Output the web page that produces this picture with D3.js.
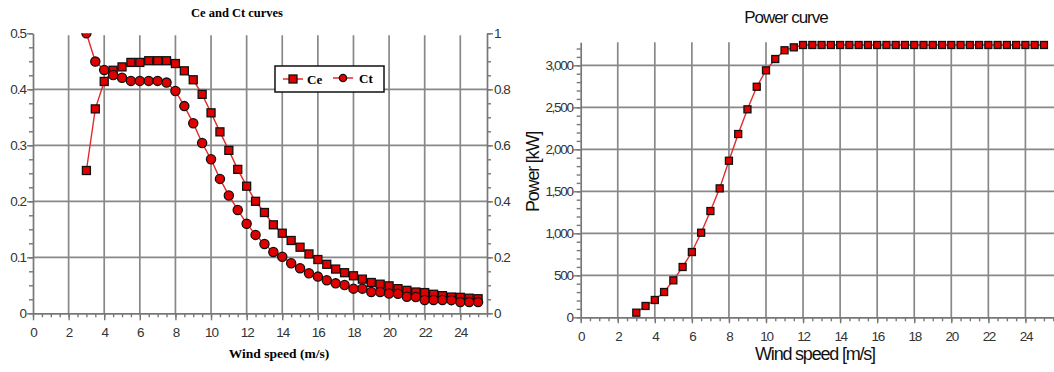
<!DOCTYPE html>
<html>
<head>
<meta charset="utf-8">
<script src="https://cdn.jsdelivr.net/npm/d3@7"></script>
<style>
  body { margin: 0; background: #fff; }
  svg { display: block; }
</style>
</head>
<body>
<svg id="chart" width="1054" height="372"></svg>
<script>
// wind speeds shared by both charts
const windSpeed = [3, 3.5, 4, 4.5, 5, 5.5, 6, 6.5, 7, 7.5, 8, 8.5, 9, 9.5, 10, 10.5, 11, 11.5, 12, 12.5,
  13, 13.5, 14, 14.5, 15, 15.5, 16, 16.5, 17, 17.5, 18, 18.5, 19, 19.5, 20, 20.5, 21, 21.5, 22, 22.5,
  23, 23.5, 24, 24.5, 25];

const ceValues = [0.255, 0.365, 0.414, 0.434, 0.440, 0.448, 0.448, 0.451, 0.451, 0.451, 0.446, 0.433,
  0.417, 0.391, 0.358, 0.324, 0.291, 0.257, 0.227, 0.200, 0.180, 0.158, 0.143, 0.130, 0.118, 0.106,
  0.096, 0.0875, 0.079, 0.0725, 0.067, 0.061, 0.055, 0.052, 0.049, 0.044, 0.041, 0.038, 0.037, 0.034,
  0.0315, 0.029, 0.0285, 0.027, 0.026];

const ctValues = [1.0, 0.899, 0.869, 0.851, 0.841, 0.830, 0.830, 0.830, 0.830, 0.824, 0.794, 0.740,
  0.679, 0.608, 0.550, 0.480, 0.421, 0.369, 0.320, 0.280, 0.2475, 0.219, 0.202, 0.179, 0.161, 0.143,
  0.131, 0.118, 0.107, 0.101, 0.088, 0.088, 0.076, 0.076, 0.071, 0.070, 0.059, 0.058, 0.0475, 0.0475,
  0.0475, 0.047, 0.040, 0.040, 0.040];

const powerValues = [55, 135, 206, 301, 440, 599, 777, 1007, 1265, 1535, 1864, 2182, 2476, 2745, 2940,
  3075, 3179, 3214, 3242, 3242, 3242, 3242, 3242, 3242, 3242, 3242, 3242, 3242, 3242, 3242, 3242,
  3242, 3242, 3242, 3242, 3242, 3242, 3242, 3242, 3242, 3242, 3242, 3242, 3242, 3242];

const xTicks = [0, 2, 4, 6, 8, 10, 12, 14, 16, 18, 20, 22, 24];
const ceTicks = [0, 0.1, 0.2, 0.3, 0.4, 0.5];
const ctTicks = [0, 0.2, 0.4, 0.6, 0.8, 1];
const powerTicks = [0, 500, 1000, 1500, 2000, 2500, 3000];

const svg = d3.select("#chart");
const gridColor = "#888";
const red = "#e00000";
const lineRed = "#e42a2a";

// ---------- left chart: Ce and Ct ----------
const x1 = d3.scaleLinear().domain([0, 25.5]).range([33, 487]);
const yCe = d3.scaleLinear().domain([0, 0.5]).range([313.3, 33.3]);
const yCt = d3.scaleLinear().domain([0, 1]).range([313.3, 33.3]);

const left = svg.append("g");

left.append("defs").append("clipPath").attr("id", "clipLeft")
  .append("rect").attr("x", 20).attr("y", 33.3).attr("width", 480).attr("height", 300);

// vertical grid
left.append("g").selectAll("line")
  .data(xTicks.filter(d => d > 0))
  .enter().append("line")
  .attr("x1", d => x1(d)).attr("x2", d => x1(d))
  .attr("y1", yCe(0.5) + 2).attr("y2", yCe(0))
  .attr("stroke", gridColor).attr("stroke-width", 1.7);

// horizontal grid
left.append("g").selectAll("line")
  .data(ceTicks.filter(d => d > 0 && d < 0.5))
  .enter().append("line")
  .attr("x1", x1(0)).attr("x2", x1(25.5))
  .attr("y1", d => yCe(d)).attr("y2", d => yCe(d))
  .attr("stroke", gridColor).attr("stroke-width", 1.7);

// axes
const tickStyle = g => {
  g.select(".domain").attr("stroke", "#777").attr("stroke-width", 1.7);
  g.selectAll(".tick line").attr("stroke", "#777").attr("stroke-width", 1.4);
  g.selectAll(".tick text").attr("fill", "#333")
    .style("font-family", "'Liberation Sans', Arial, sans-serif")
    .style("font-size", "13.5px").style("letter-spacing", "-1px");
};

left.append("g")
  .attr("transform", "translate(0," + yCe(0) + ")")
  .call(d3.axisBottom(x1).tickValues(d3.range(0, 25.6, 0.5)).tickSize(4).tickSizeOuter(0).tickFormat(""))
  .call(g => g.select(".domain").remove())
  .selectAll("line").attr("stroke", "#777").attr("stroke-width", 1.4);

left.append("g")
  .attr("transform", "translate(0," + yCe(0) + ")")
  .call(d3.axisBottom(x1).tickValues(xTicks).tickSize(7).tickSizeOuter(0).tickPadding(7))
  .call(tickStyle);

left.append("g")
  .attr("transform", "translate(" + x1(0) + ",0)")
  .call(d3.axisLeft(yCe).tickValues(d3.range(0, 0.501, 0.025)).tickSize(4).tickFormat(""))
  .call(g => g.select(".domain").remove())
  .selectAll("line").attr("stroke", "#777").attr("stroke-width", 1.4);

left.append("g")
  .attr("transform", "translate(" + x1(0) + ",0)")
  .call(d3.axisLeft(yCe).tickValues(ceTicks).tickSize(6).tickSizeOuter(0).tickPadding(1))
  .call(tickStyle)
  .call(g => g.selectAll(".tick text").text(d => d === 0 ? "0" : d3.format(".1f")(d)));

left.append("g")
  .attr("transform", "translate(" + x1(25.5) + ",0)")
  .call(d3.axisRight(yCt).tickValues(d3.range(0, 1.001, 0.05)).tickSize(4).tickFormat(""))
  .call(g => g.select(".domain").remove())
  .selectAll("line").attr("stroke", "#777").attr("stroke-width", 1.4);

left.append("g")
  .attr("transform", "translate(" + x1(25.5) + ",0)")
  .call(d3.axisRight(yCt).tickValues(ctTicks).tickSize(6).tickSizeOuter(0).tickPadding(1))
  .call(tickStyle)
  .call(g => g.selectAll(".tick text").text(d => d === 0 || d === 1 ? d : d3.format(".1f")(d)));

// series
const plotLeft = left.append("g").attr("clip-path", "url(#clipLeft)");

const ceLine = d3.line().x((d, i) => x1(windSpeed[i])).y(d => yCe(d));
const ctLine = d3.line().x((d, i) => x1(windSpeed[i])).y(d => yCt(d));

plotLeft.append("path").datum(ceValues)
  .attr("d", ceLine).attr("fill", "none").attr("stroke", lineRed).attr("stroke-width", 1.4);
plotLeft.append("path").datum(ctValues)
  .attr("d", ctLine).attr("fill", "none").attr("stroke", lineRed).attr("stroke-width", 1.4);

plotLeft.append("g").selectAll("rect")
  .data(ceValues)
  .enter().append("rect")
  .attr("x", (d, i) => x1(windSpeed[i]) - 4)
  .attr("y", d => yCe(d) - 4)
  .attr("width", 8).attr("height", 8)
  .attr("fill", red).attr("stroke", "#111").attr("stroke-width", 1.3);

plotLeft.append("g").selectAll("circle")
  .data(ctValues)
  .enter().append("circle")
  .attr("cx", (d, i) => x1(windSpeed[i]))
  .attr("cy", d => yCt(d))
  .attr("r", 4.6)
  .attr("fill", red).attr("stroke", "#111").attr("stroke-width", 1.3);

// title and label
left.append("text")
  .attr("x", 237).attr("y", 17)
  .attr("text-anchor", "middle")
  .style("font-family", "'Liberation Serif', 'Times New Roman', serif")
  .style("font-weight", "bold").style("font-size", "12.5px")
  .text("Ce and Ct curves");

left.append("text")
  .attr("x", 279).attr("y", 358)
  .attr("text-anchor", "middle")
  .style("font-family", "'Liberation Serif', 'Times New Roman', serif")
  .style("font-weight", "bold").style("font-size", "13.5px")
  .text("Wind speed (m/s)");

// legend
const legend = left.append("g").attr("transform", "translate(275,66)");
legend.append("rect")
  .attr("width", 109).attr("height", 26)
  .attr("fill", "#fff").attr("stroke", "#111").attr("stroke-width", 1.5);
legend.append("line").attr("x1", 8).attr("x2", 28).attr("y1", 13).attr("y2", 13)
  .attr("stroke", lineRed).attr("stroke-width", 1.5);
legend.append("rect").attr("x", 14).attr("y", 9).attr("width", 8).attr("height", 8)
  .attr("fill", red).attr("stroke", "#111").attr("stroke-width", 1.3);
legend.append("text").attr("x", 32).attr("y", 18)
  .style("font-family", "'Liberation Serif', serif").style("font-weight", "bold").style("font-size", "13px")
  .text("Ce");
legend.append("line").attr("x1", 58).attr("x2", 78).attr("y1", 12).attr("y2", 12)
  .attr("stroke", lineRed).attr("stroke-width", 1.5);
legend.append("circle").attr("cx", 68).attr("cy", 12).attr("r", 3.6)
  .attr("fill", red).attr("stroke", "#111").attr("stroke-width", 1.3);
legend.append("text").attr("x", 84).attr("y", 17)
  .style("font-family", "'Liberation Serif', serif").style("font-weight", "bold").style("font-size", "13px")
  .text("Ct");

// ---------- right chart: power curve ----------
const x2 = d3.scaleLinear().domain([0, 25.5]).range([580.7, 1053.2]);
const yP = d3.scaleLinear().domain([0, 3274]).range([317.3, 42.3]);

const right = svg.append("g");

right.append("g").selectAll("line")
  .data(xTicks.filter(d => d > 0))
  .enter().append("line")
  .attr("x1", d => x2(d)).attr("x2", d => x2(d))
  .attr("y1", yP(3274)).attr("y2", yP(0))
  .attr("stroke", gridColor).attr("stroke-width", 1.7);

right.append("g").selectAll("line")
  .data(powerTicks.filter(d => d > 0))
  .enter().append("line")
  .attr("x1", x2(0)).attr("x2", 1054)
  .attr("y1", d => yP(d)).attr("y2", d => yP(d))
  .attr("stroke", gridColor).attr("stroke-width", 1.7);

const tickStyle2 = g => {
  g.select(".domain").attr("stroke", "#777").attr("stroke-width", 1.7);
  g.selectAll(".tick line").attr("stroke", "#777").attr("stroke-width", 1.4);
  g.selectAll(".tick text").attr("fill", "#333")
    .style("font-family", "'Liberation Sans', Arial, sans-serif")
    .style("font-size", "13.5px").style("letter-spacing", "-1.3px");
};

right.append("g")
  .attr("transform", "translate(0," + yP(0) + ")")
  .call(d3.axisBottom(x2).tickValues(d3.range(0, 25.6, 0.5)).tickSize(4).tickSizeOuter(0).tickFormat(""))
  .call(g => g.select(".domain").remove())
  .selectAll("line").attr("stroke", "#777").attr("stroke-width", 1.4);

right.append("g")
  .attr("transform", "translate(0," + yP(0) + ")")
  .call(d3.axisBottom(x2).tickValues(xTicks).tickSize(6).tickSizeOuter(0).tickPadding(8))
  .call(tickStyle2);

right.append("g")
  .attr("transform", "translate(" + x2(0) + ",0)")
  .call(d3.axisLeft(yP).tickValues(d3.range(0, 3274, 100)).tickSize(4).tickFormat(""))
  .call(g => g.select(".domain").remove())
  .selectAll("line").attr("stroke", "#777").attr("stroke-width", 1.4);

right.append("g")
  .attr("transform", "translate(" + x2(0) + ",0)")
  .call(d3.axisLeft(yP).tickValues(powerTicks).tickSize(7).tickSizeOuter(0).tickPadding(1).tickFormat(d3.format(",")))
  .call(tickStyle2);

const powerLine = d3.line().x((d, i) => x2(windSpeed[i])).y(d => yP(d));

right.append("path").datum(powerValues)
  .attr("d", powerLine).attr("fill", "none").attr("stroke", lineRed).attr("stroke-width", 1.4);

right.append("g").selectAll("rect")
  .data(powerValues)
  .enter().append("rect")
  .attr("x", (d, i) => x2(windSpeed[i]) - 3.5)
  .attr("y", d => yP(d) - 3.5)
  .attr("width", 7).attr("height", 7)
  .attr("fill", red).attr("stroke", "#111").attr("stroke-width", 1.3);

right.append("text")
  .attr("x", 786).attr("y", 23)
  .attr("text-anchor", "middle")
  .attr("fill", "#111")
  .style("font-family", "'Liberation Sans', Arial, sans-serif")
  .style("font-size", "17px").style("letter-spacing", "-1px")
  .text("Power curve");

right.append("text")
  .attr("x", 815).attr("y", 360)
  .attr("text-anchor", "middle")
  .attr("fill", "#111")
  .style("font-family", "'Liberation Sans', Arial, sans-serif")
  .style("font-size", "18px").style("letter-spacing", "-1.2px")
  .text("Wind speed [m/s]");

right.append("text")
  .attr("transform", "translate(539,172) rotate(-90)")
  .attr("text-anchor", "middle")
  .attr("fill", "#111")
  .style("font-family", "'Liberation Sans', Arial, sans-serif")
  .style("font-size", "18px").style("letter-spacing", "-1.2px")
  .text("Power [kW]");
</script>
</body>
</html>
